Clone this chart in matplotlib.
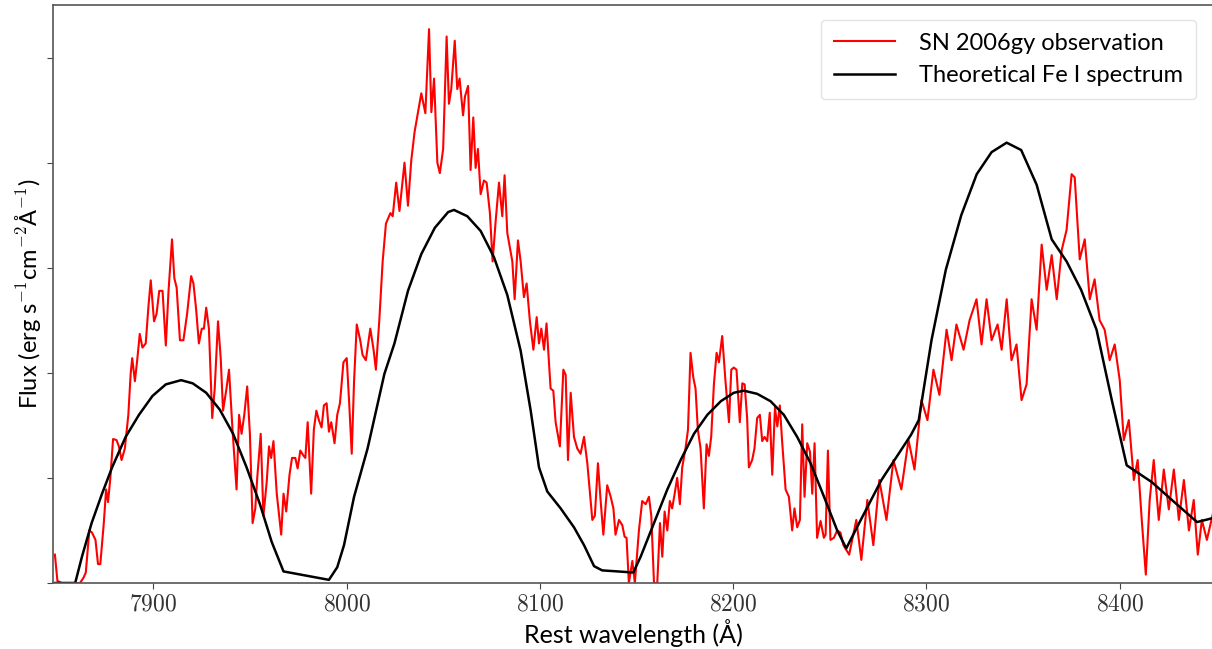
import numpy as np
import matplotlib
matplotlib.use('Agg')
import matplotlib.pyplot as plt
from matplotlib.ticker import FuncFormatter

plt.rcParams['mathtext.fontset'] = 'cm'
plt.rcParams['font.family'] = ['Lato', 'DejaVu Sans']

# observed spectrum (rest wavelength in A, flux in tick units)
obs_wave = [7849, 7850.3, 7852.5, 7862, 7863.8, 7865, 7866.8, 7868.2, 7870, 7871.3,
            7872.5, 7874.3, 7875.5, 7876.5, 7877.7, 7879.1, 7880.9, 7882.1, 7883.5, 7885.2,
            7887, 7888.2, 7889, 7890.4, 7891.7, 7892.9, 7894.3, 7896, 7897.4, 7898.6,
            7900.3, 7901.6, 7903, 7904.7, 7906.4, 7907.8, 7909.6, 7910.8, 7912, 7913.7,
            7915.5, 7917.4, 7919.5, 7920.7, 7922.1, 7923.5, 7925, 7926.1, 7927.3, 7928.7,
            7930.4, 7931.7, 7933.4, 7934.8, 7936, 7937.7, 7939.1, 7940.9, 7943, 7944.3,
            7945.6, 7947, 7948.5, 7949.9, 7951.3, 7952.7, 7953.7, 7955.5, 7956.9, 7958.6,
            7959.8, 7960.9, 7962.1, 7963.8, 7966.1, 7967.3, 7968.7, 7970.4, 7971.7, 7973.4,
            7974.6, 7976, 7977.7, 7978.6, 7979.8, 7981.6, 7983, 7984.3, 7985.6, 7987,
            7988.2, 7989.6, 7990.8, 7992, 7993.7, 7995.1, 7996.5, 7998.3, 8000, 8001.2,
            8002.6, 8003.8, 8005.2, 8007, 8008.2, 8009.9, 8012.2, 8013.9, 8015.1, 8016.9,
            8018.6, 8020.3, 8022.6, 8023.8, 8025.6, 8027.3, 8029.9, 8031.7, 8033.4, 8035.1,
            8036.9, 8038.6, 8040.7, 8042.6, 8043.8, 8045.2, 8046.9, 8048.2, 8049.9, 8051.7,
            8052.9, 8054.1, 8055.9, 8057.2, 8058.4, 8060.2, 8061.2, 8062.8, 8064.1, 8065.5,
            8066.7, 8067.9, 8069.3, 8071, 8072.4, 8074.1, 8075.5, 8077.1, 8078.8, 8080.5,
            8081.7, 8083.1, 8085.7, 8086.9, 8088.6, 8090, 8091.7, 8093.1, 8094.8, 8096.6,
            8098.3, 8099.5, 8100.7, 8102.1, 8103.4, 8105.5, 8106.9, 8108.1, 8110.3, 8112.1,
            8113.3, 8114.5, 8115.9, 8117.6, 8119.3, 8121, 8122.8, 8124.5, 8127.1, 8128.4,
            8130, 8131.4, 8132.8, 8134.8, 8136.6, 8138, 8139.1, 8140.9, 8142.6, 8143.8,
            8144.8, 8146, 8147.8, 8149.1, 8151.2, 8152.9, 8154.7, 8156.4, 8157.6, 8159,
            8160.7, 8162.1, 8163.3, 8164.5, 8165.9, 8167.2, 8168.4, 8169.7, 8171, 8172.4,
            8173.6, 8175.3, 8176.6, 8177.9, 8179.3, 8180.5, 8181.7, 8183.1, 8184.8, 8186.2,
            8187.4, 8188.6, 8190, 8191.4, 8192.6, 8194.3, 8196, 8197.8, 8199, 8200.3,
            8201.7, 8203.4, 8204.7, 8205.9, 8207.2, 8208.1, 8209.8, 8211, 8212.4, 8213.8,
            8215, 8216.2, 8217.6, 8218.9, 8220.2, 8221.6, 8222.8, 8224.1, 8225.3, 8227.1,
            8228.8, 8230.5, 8231.7, 8233.1, 8234.5, 8235.7, 8236.9, 8238.3, 8239.7, 8240.9,
            8242.1, 8243.4, 8245.2, 8246.9, 8247.8, 8249, 8250.3, 8252.1, 8253.8, 8255.5,
            8257, 8260, 8263.7, 8266.3, 8269.4, 8272.5, 8275.6, 8279.3, 8282.9, 8287,
            8290.7, 8293.8, 8297.4, 8300.5, 8303.6, 8306.7, 8310.4, 8313, 8315.5, 8319.2,
            8322.3, 8325.9, 8328.5, 8331.1, 8333.7, 8336.8, 8338.9, 8341.5, 8344, 8346.6,
            8349.2, 8351.8, 8354.4, 8357, 8359.6, 8362.2, 8364.8, 8367.4, 8370, 8372.5,
            8375.1, 8376.7, 8379.3, 8381.9, 8384.5, 8387, 8389.6, 8392.2, 8394.8, 8397.4,
            8400, 8402.1, 8404.7, 8407.3, 8409.3, 8411.4, 8413.5, 8415.5, 8417.6, 8420.2,
            8422.8, 8425.4, 8428, 8430.6, 8433.2, 8435.8, 8438.3, 8440.4, 8442.5, 8445.1,
            8448.7]
obs_flux = [0.27, 0.02, 0, 0, 0.05, 0.1, 0.5, 0.48, 0.41, 0.18,
            0.18, 0.57, 0.89, 0.77, 1.0, 1.37, 1.36, 1.30, 1.17, 1.28,
            1.60, 1.99, 2.14, 1.92, 2.14, 2.37, 2.24, 2.28, 2.63, 2.88,
            2.49, 2.56, 2.78, 2.78, 2.26, 2.78, 3.27, 2.90, 2.81, 2.31,
            2.31, 2.56, 2.92, 2.85, 2.60, 2.28, 2.42, 2.42, 2.62, 2.42,
            1.57, 1.85, 2.49, 2.14, 1.64, 1.84, 2.03, 1.46, 0.89, 1.60,
            1.42, 1.60, 1.87, 1.42, 0.57, 0.71, 1.0, 1.42, 0.64, 0.96,
            1.30, 1.19, 1.35, 0.85, 0.46, 0.85, 0.68, 1.03, 1.19, 1.19,
            1.09, 1.26, 1.21, 1.19, 1.53, 0.85, 1.46, 1.64, 1.55, 1.48,
            1.69, 1.71, 1.44, 1.53, 1.33, 1.60, 1.71, 2.10, 2.14, 1.74,
            1.23, 1.92, 2.46, 2.31, 2.17, 2.12, 2.42, 2.22, 2.03, 2.51,
            3.06, 3.42, 3.52, 3.49, 3.81, 3.54, 4.00, 3.59, 4.02, 4.29,
            4.48, 4.66, 4.47, 5.27, 4.48, 4.80, 4.00, 3.90, 4.13, 5.20,
            4.56, 4.70, 5.16, 4.70, 4.80, 4.45, 4.63, 4.73, 3.93, 4.43,
            3.95, 4.13, 3.70, 3.83, 3.81, 3.52, 3.06, 3.45, 3.81, 3.49,
            3.88, 3.33, 3.06, 2.70, 3.26, 3.06, 2.72, 2.85, 2.49, 2.22,
            2.53, 2.28, 2.42, 2.22, 2.47, 1.85, 1.83, 1.53, 1.30, 2.03,
            1.98, 1.17, 1.81, 1.39, 1.28, 1.23, 1.39, 1.14, 0.60, 0.64,
            1.14, 0.78, 0.46, 0.93, 0.82, 0.71, 0.46, 0.60, 0.55, 0.44,
            0.43, 0, 0.21, 0, 0.50, 0.78, 0.75, 0.82, 0.64, 0,
            0, 0.57, 0.25, 0.68, 0.50, 0.78, 0.71, 0.85, 1.0, 0.75,
            1.10, 1.28, 1.46, 2.19, 1.96, 1.85, 1.46, 1.28, 0.71, 1.32,
            1.21, 1.39, 1.89, 2.19, 2.10, 2.35, 1.92, 1.53, 2.03, 2.05,
            2.03, 1.53, 1.90, 1.89, 1.57, 1.10, 1.17, 1.28, 1.57, 1.60,
            1.35, 1.39, 1.35, 1.62, 1.03, 1.67, 1.49, 1.69, 1.35, 0.89,
            0.82, 0.50, 0.71, 0.53, 0.60, 1.51, 0.82, 1.33, 1.25, 0.85,
            1.33, 0.43, 0.59, 0.43, 0.46, 1.26, 0.41, 0.43, 0.50, 0.48,
            0.36, 0.27, 0.6, 0.22, 0.79, 0.36, 0.98, 0.6, 1.17, 0.89,
            1.36, 1.08, 1.74, 1.55, 2.03, 1.79, 2.41, 2.12, 2.46, 2.22,
            2.50, 2.70, 2.27, 2.70, 2.31, 2.46, 2.22, 2.70, 2.12, 2.27,
            1.74, 1.89, 2.70, 2.41, 3.22, 2.79, 3.12, 2.70, 3.17, 3.36,
            3.89, 3.86, 3.08, 3.27, 2.70, 2.89, 2.50, 2.41, 2.12, 2.27,
            1.93, 1.36, 1.55, 0.98, 1.17, 0.60, 0.08, 0.79, 1.17, 0.60,
            1.08, 0.70, 1.08, 0.60, 0.98, 0.50, 0.79, 0.27, 0.60, 0.41,
            0.70]

# theoretical Fe I spectrum
theo_wave = [7849, 7859.5, 7863, 7868, 7873.4, 7878.6, 7885.6, 7892.5, 7899.5, 7906.4,
             7914.3, 7920.3, 7927.3, 7934.3, 7941.2, 7948.2, 7955.1, 7961.2, 7967.3, 7990.8,
             7995.1, 7998.6, 8003.8, 8010.8, 8019.5, 8024.7, 8031.7, 8038.6, 8045.6, 8052.5,
             8055.5, 8062.4, 8069.3, 8076.2, 8083.1, 8090, 8095.2, 8099.5, 8103.8, 8110.7,
             8117.6, 8122.8, 8128, 8132.2, 8148.3, 8152.1, 8159, 8165.9, 8172.8, 8179.7,
             8186.6, 8193.6, 8200.3, 8205.5, 8212.4, 8219.3, 8226.2, 8233.1, 8240, 8247,
             8253.8, 8258.5, 8266, 8276.7, 8292, 8296, 8302.6, 8310, 8318, 8326,
             8333.7, 8341.5, 8349, 8357, 8364.8, 8372.5, 8380, 8388, 8395.9, 8403.6,
             8416.6, 8427, 8440, 8448.7]
theo_flux = [0, 0, 0.25, 0.57, 0.85, 1.10, 1.39, 1.60, 1.78, 1.89,
             1.93, 1.90, 1.81, 1.65, 1.42, 1.10, 0.75, 0.39, 0.11, 0.03,
             0.15, 0.36, 0.82, 1.28, 1.99, 2.28, 2.78, 3.13, 3.38, 3.53,
             3.55, 3.49, 3.35, 3.10, 2.74, 2.21, 1.64, 1.10, 0.87, 0.71,
             0.53, 0.36, 0.16, 0.12, 0.10, 0.25, 0.57, 0.89, 1.17, 1.42,
             1.60, 1.73, 1.81, 1.83, 1.80, 1.73, 1.60, 1.39, 1.14, 0.82,
             0.50, 0.33, 0.6, 0.98, 1.41, 1.55, 2.31, 2.98, 3.5, 3.89,
             4.10, 4.19, 4.12, 3.79, 3.27, 3.06, 2.79, 2.41, 1.74, 1.12,
             0.96, 0.79, 0.58, 0.62]

fig = plt.figure(figsize=(12.12, 6.49), dpi=100)
ax = fig.add_axes([0.0437, 0.1017, 0.9583, 0.8906])

ax.plot(obs_wave, obs_flux, color='red', lw=1.5, label='SN 2006gy observation')
ax.plot(theo_wave, theo_flux, color='black', lw=1.8, label='Theoretical Fe I spectrum')

ax.set_xlim(7848, 8449)
ax.set_ylim(0, 5.5)
ax.set_xticks([7900, 8000, 8100, 8200, 8300, 8400])
ax.xaxis.set_major_formatter(FuncFormatter(lambda v, p: r'$%d$' % v))
ax.set_yticks([0, 1, 2, 3, 4, 5])
ax.set_yticklabels([])
ax.tick_params(axis='x', labelsize=17, length=4, width=0.8, colors='#444444', labelcolor='#333333')
ax.tick_params(axis='y', length=4, width=0.8, colors='#444444')
for s in ax.spines.values():
    s.set_color('#555555')
    s.set_linewidth(1.2)

ax.set_xlabel('Rest wavelength (Å)', fontsize=18, labelpad=3)
ax.set_ylabel(r'Flux (erg s$^{-1}$cm$^{-2}$Å$^{-1}$)', fontsize=17)
ax.yaxis.set_label_coords(-0.009, 0.5)

leg = ax.legend(loc='upper right', fontsize=17, frameon=True, handlelength=2.6,
                handletextpad=1.0, labelspacing=0.5, borderpad=0.55,
                bbox_to_anchor=(0.994, 0.995))
leg.get_frame().set_edgecolor('#dddddd')

fig.savefig('out.png', dpi=100)
